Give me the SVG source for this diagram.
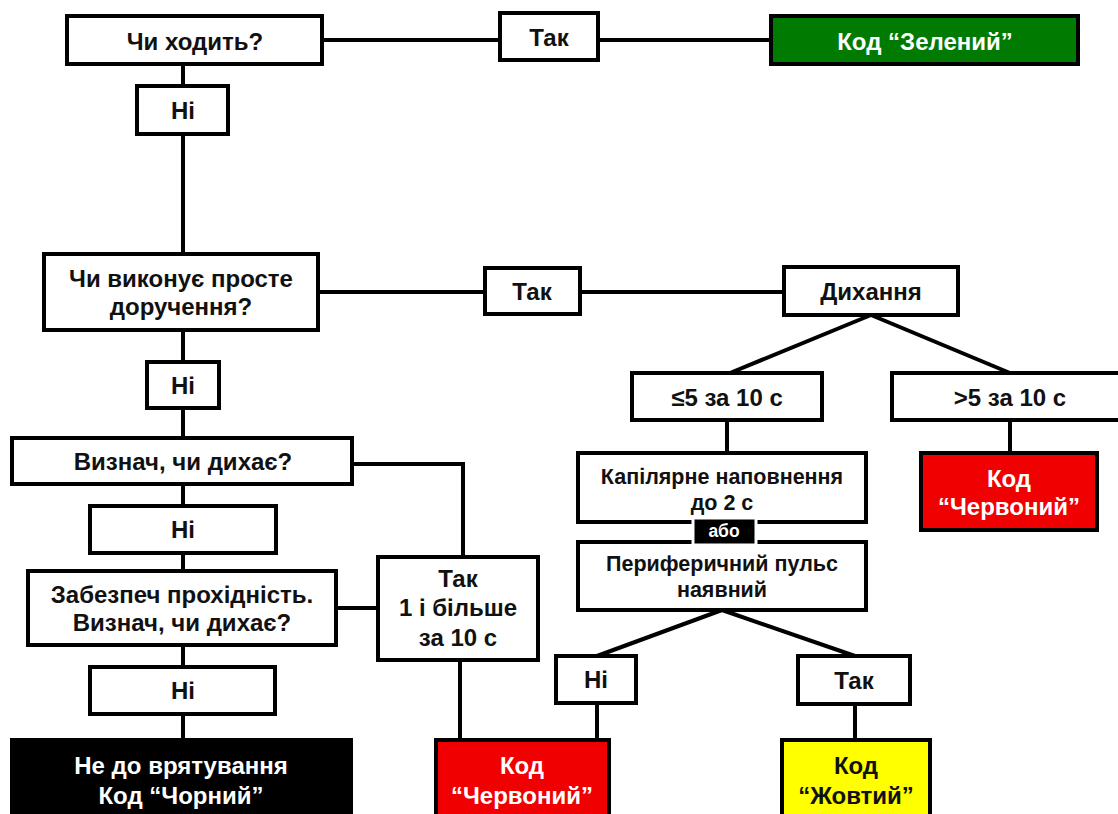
<svg xmlns="http://www.w3.org/2000/svg" width="1118" height="814" viewBox="0 0 1118 814">
<style>
.b{fill:#fff;stroke:#000;stroke-width:4}
.t{font-family:"Liberation Sans",Arial,sans-serif;font-weight:bold;font-size:24px;fill:#111;text-anchor:middle;dominant-baseline:central}
.s{font-size:21.5px}
.w{fill:#fff}
.c line,.c polyline{stroke:#000;stroke-width:4;fill:none}
</style>
<rect width="1118" height="814" fill="#fff"/>
<g class="c" id="connectors">
<line x1="322" y1="40" x2="500" y2="40"/>
<line x1="598" y1="40" x2="771" y2="40"/>
<line x1="183" y1="64" x2="183" y2="86"/>
<line x1="183" y1="134" x2="183" y2="254"/>
<line x1="318" y1="292" x2="485" y2="292"/>
<line x1="580" y1="292" x2="784" y2="292"/>
<line x1="871" y1="315" x2="730" y2="373"/>
<line x1="871" y1="315" x2="1010" y2="373"/>
<line x1="1010" y1="420" x2="1010" y2="453"/>
<line x1="727" y1="420" x2="727" y2="453"/>
<line x1="722" y1="610" x2="597" y2="656"/>
<line x1="722" y1="610" x2="855" y2="656"/>
<line x1="597" y1="703" x2="597" y2="740"/>
<line x1="855" y1="704" x2="855" y2="740"/>
<line x1="183" y1="330" x2="183" y2="362"/>
<line x1="183" y1="408" x2="183" y2="438"/>
<polyline points="352,464 463,464 463,557"/>
<line x1="183" y1="484" x2="183" y2="506"/>
<line x1="183" y1="553" x2="183" y2="571"/>
<line x1="336" y1="608" x2="378" y2="608"/>
<line x1="460" y1="660" x2="460" y2="740"/>
<line x1="183" y1="645" x2="183" y2="667"/>
<line x1="183" y1="714" x2="183" y2="740"/>
</g>
<g id="walks"><rect class="b" x="67" y="16" width="255" height="48"/><text class="t" x="195" y="41">Чи ходить?</text></g>
<g id="yes1"><rect class="b" x="500" y="13" width="98" height="47"/><text class="t" x="549" y="37">Так</text></g>
<g id="green"><rect x="771" y="16" width="307" height="48" fill="#007a00" stroke="#000" stroke-width="4"/><text class="t w" x="925" y="41">Код “Зелений”</text></g>
<g id="no1"><rect class="b" x="137" y="86" width="91" height="48"/><text class="t" x="183" y="110">Ні</text></g>
<g id="obeys"><rect class="b" x="44" y="254" width="274" height="76"/><text class="t" x="181" y="278">Чи виконує просте</text><text class="t" x="181" y="306">доручення?</text></g>
<g id="yes2"><rect class="b" x="485" y="268" width="95" height="46"/><text class="t" x="532" y="291">Так</text></g>
<g id="breath"><rect class="b" x="784" y="267" width="174" height="48"/><text class="t" x="871" y="291">Дихання</text></g>
<g id="le5"><rect class="b" x="632" y="373" width="190" height="47"/><text class="t" x="727" y="397">≤5 за 10 с</text></g>
<g id="gt5"><rect class="b" x="892" y="373" width="232" height="47"/><text class="t" x="1010" y="397">&gt;5 за 10 с</text></g>
<g id="red1"><rect x="921" y="453" width="176" height="77" fill="#f00000" stroke="#000" stroke-width="4"/><text class="t w" x="1009" y="478">Код</text><text class="t w" x="1009" y="506">“Червоний”</text></g>
<g id="capillary"><rect class="b" x="578" y="453" width="288" height="69"/><text class="t s" x="722" y="477">Капілярне наповнення</text><text class="t s" x="722" y="503">до 2 с</text></g>
<g id="pulse"><rect class="b" x="578" y="542" width="288" height="68"/><text class="t s" x="722" y="564">Периферичний пульс</text><text class="t s" x="722" y="590">наявний</text></g>
<g id="or"><rect x="693" y="518" width="63" height="27" fill="#000" stroke="#fff" stroke-width="3"/><text class="t w" x="724" y="531" style="font-size:17.5px">або</text></g>
<g id="no5"><rect class="b" x="556" y="656" width="80" height="47"/><text class="t" x="596" y="679">Ні</text></g>
<g id="yes4"><rect class="b" x="798" y="656" width="112" height="48"/><text class="t" x="854" y="680">Так</text></g>
<g id="red3"><rect x="436" y="740" width="173" height="80" fill="#f00000" stroke="#000" stroke-width="4"/><text class="t w" x="522" y="765">Код</text><text class="t w" x="522" y="795">“Червоний”</text></g>
<g id="yellow"><rect x="782" y="740" width="148" height="80" fill="#ffff00" stroke="#000" stroke-width="4"/><text class="t" x="856" y="765">Код</text><text class="t" x="856" y="795">“Жовтий”</text></g>
<g id="no2"><rect class="b" x="147" y="362" width="72" height="46"/><text class="t" x="183" y="385">Ні</text></g>
<g id="breathes"><rect class="b" x="12" y="438" width="340" height="46"/><text class="t" x="183" y="461">Визнач, чи дихає?</text></g>
<g id="no3"><rect class="b" x="90" y="506" width="186" height="47"/><text class="t" x="183" y="529">Ні</text></g>
<g id="airway"><rect class="b" x="28" y="571" width="308" height="74"/><text class="t" x="182" y="594">Забезпеч прохідність.</text><text class="t" x="182" y="622">Визнач, чи дихає?</text></g>
<g id="yes3"><rect class="b" x="378" y="557" width="160" height="103"/><text class="t" x="458" y="578">Так</text><text class="t" x="458" y="607">1 і більше</text><text class="t" x="458" y="637">за 10 с</text></g>
<g id="no4"><rect class="b" x="90" y="667" width="185" height="47"/><text class="t" x="183" y="690">Ні</text></g>
<g id="black"><rect x="12" y="740" width="339" height="80" fill="#000" stroke="#000" stroke-width="4"/><text class="t w" x="181" y="765">Не до врятування</text><text class="t w" x="181" y="795">Код “Чорний”</text></g>
</svg>
